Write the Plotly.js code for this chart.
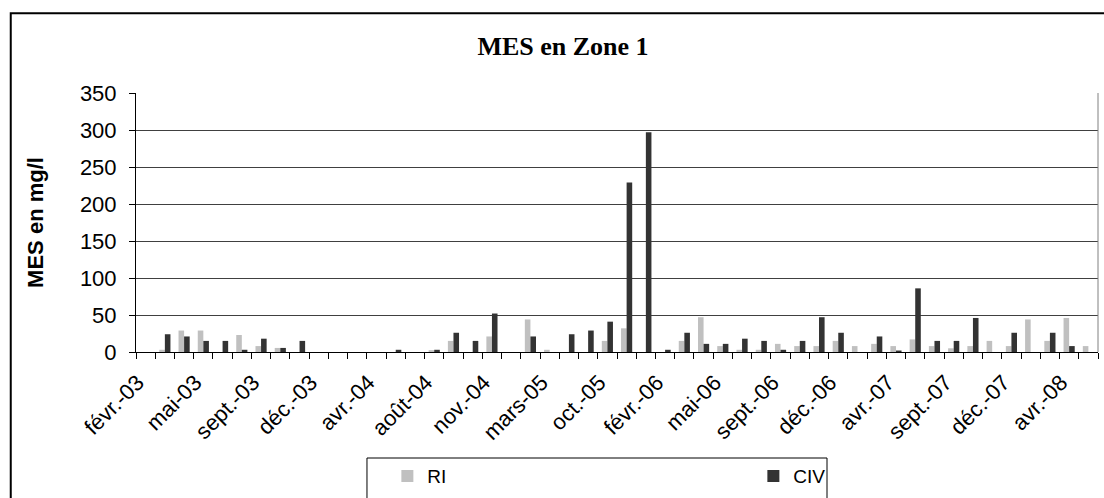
<!DOCTYPE html>
<html>
<head>
<meta charset="utf-8">
<script src="https://cdn.plot.ly/plotly-3.0.1.min.js"></script>
<style>
html,body{margin:0;padding:0;background:#fff;}
#chart{width:1104px;height:498px;}
</style>
</head>
<body>
<div id="chart"></div>
<script>
// Categories (sampling dates); only every third one is labelled on the axis
const categories = [
  "févr.-03","mars-03","avr.-03","mai-03","juin-03","août-03","sept.-03","oct.-03","nov.-03","déc.-03",
  "janv.-04","févr.-04","avr.-04","mai-04","juin-04","août-04","sept.-04","oct.-04","nov.-04","déc.-04",
  "janv.-05","mars-05","mai-05","juil.-05","oct.-05","nov.-05","déc.-05","févr.-06","mars-06","avr.-06",
  "mai-06","juin-06","juil.-06","sept.-06","oct.-06","nov.-06","déc.-06","janv.-07","févr.-07","avr.-07",
  "mai-07","juil.-07","sept.-07","oct.-07","nov.-07","déc.-07","janv.-08","févr.-08","avr.-08","mai-08"
];
const tickLabels = [
  "févr.-03","mai-03","sept.-03","déc.-03","avr.-04","août-04","nov.-04","mars-05","oct.-05",
  "févr.-06","mai-06","sept.-06","déc.-06","avr.-07","sept.-07","déc.-07","avr.-08"
];
const riValues = [
  null, 3, 29, 29, 0, 23, 8, 5.5, 0, null,
  null, null, null, 0, null, 2.5, 15, 0, 21, null,
  44, 3, 0, 0, 15, 32, 0, 0, 15, 47,
  8, 3, 3, 11, 8, 8, 15, 8, 11, 8,
  17, 8, 5, 8, 15, 8, 44, 15, 46, 8
];
const civValues = [
  null, 24, 21, 15, 15, 3, 18, 5.5, 15, null,
  null, null, null, 3, null, 3, 26, 15, 52, null,
  21, 0, 24, 29, 41, 229, 297, 3, 26, 11,
  11, 18, 15, 3, 15, 47, 26, 0, 21, 2,
  86, 15, 15, 46, 0, 26, 0, 26, 8, 0
];
const seriesNames = ["RI", "CIV"];

const tickText = categories.map(c => tickLabels.includes(c) ? c : "");

const traces = [
  {type: "bar", name: seriesNames[0], x: categories, y: riValues,
   marker: {color: "#C0C0C0", line: {width: 0}}},
  {type: "bar", name: seriesNames[1], x: categories, y: civValues,
   marker: {color: "#333333", line: {width: 0}}}
];

const layout = {
  width: 1104, height: 498,
  margin: {l: 136, r: 6, t: 93, b: 146, autoexpand: false},
  paper_bgcolor: "#fff", plot_bgcolor: "#fff",
  font: {family: "Arial, 'Liberation Sans', sans-serif", color: "#000", size: 20},
  barmode: "group", bargap: 0.42, bargroupgap: 0,
  title: {
    text: "<b>MES en Zone 1</b>",
    font: {family: "'Liberation Serif', 'Times New Roman', serif", size: 26, color: "#000"},
    x: 0.4439, xref: "paper", xanchor: "center",
    y: 1 - 46 / 498, yref: "container", yanchor: "middle"
  },
  xaxis: {
    type: "category",
    categoryorder: "array", categoryarray: categories,
    tickmode: "array", tickvals: categories, ticktext: tickText,
    tickson: "boundaries", ticks: "outside", ticklen: 6, tickcolor: "#000", tickwidth: 1,
    tickangle: -45, ticklabelstandoff: 8, ticklabelshift: -8,
    tickfont: {family: "Arial, 'Liberation Sans', sans-serif", size: 22, color: "#000"},
    showline: true, linecolor: "#000", linewidth: 1,
    showgrid: false, zeroline: false, automargin: false
  },
  yaxis: {
    range: [0, 350], tickmode: "linear", tick0: 0, dtick: 50,
    ticks: "outside", ticklen: 6, tickcolor: "#000", tickwidth: 1,
    ticklabelstandoff: 8,
    tickfont: {family: "Arial, 'Liberation Sans', sans-serif", size: 22, color: "#000"},
    showline: true, linecolor: "#000", linewidth: 1,
    showgrid: true, gridcolor: "#404040", gridwidth: 1,
    zeroline: false,
    automargin: false,
    title: {
      text: "<b>MES en mg/l</b>",
      font: {family: "Arial, 'Liberation Sans', sans-serif", size: 22, color: "#000"},
      standoff: 30
    }
  },
  showlegend: true,
  legend: {
    orientation: "h",
    x: 0.2613, xanchor: "left", xref: "paper",
    y: -0.406, yanchor: "top", yref: "paper",
    bgcolor: "rgba(0,0,0,0)", borderwidth: 0,
    entrywidth: 321, entrywidthmode: "pixels",
    font: {family: "Arial, 'Liberation Sans', sans-serif", size: 19, color: "#000"},
    traceorder: "normal"
  },
  shapes: [
    // outer chart frame
    {type: "rect", xref: "paper", yref: "paper", x0: -0.1302, x1: 1.2, y0: -1, y1: 1.3077,
     line: {color: "#000", width: 2}, fillcolor: "rgba(0,0,0,0)", layer: "above"},
    // legend box
    {type: "rect", xref: "paper", yref: "paper", x0: 0.2401, x1: 0.7183, y0: -0.7, y1: -0.4093,
     line: {color: "#000", width: 1}, fillcolor: "rgba(0,0,0,0)", layer: "above"},
    // plot area right border
    {type: "line", xref: "paper", yref: "paper", x0: 1, x1: 1, y0: 0, y1: 1,
     line: {color: "#808080", width: 1}, layer: "above"}
  ]
};

Plotly.newPlot("chart", traces, layout, {displayModeBar: false, staticPlot: true});
</script>
</body>
</html>
